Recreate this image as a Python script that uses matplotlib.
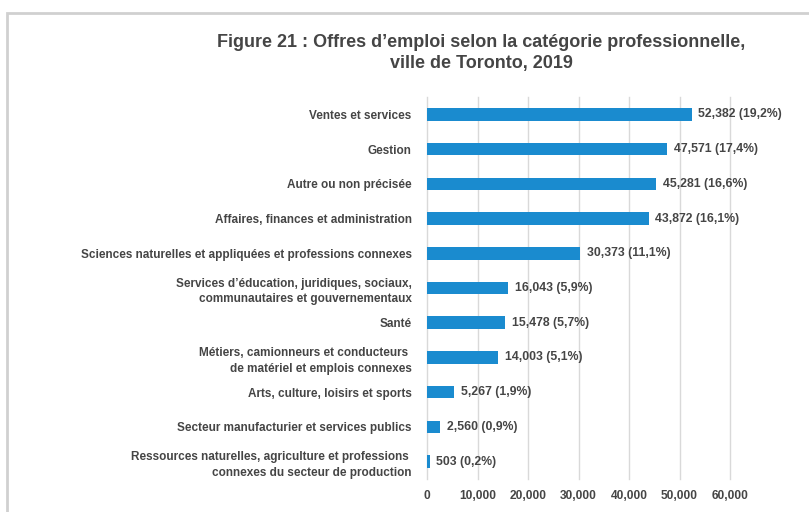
import matplotlib
matplotlib.use("Agg")
import matplotlib.pyplot as plt
from matplotlib.patches import Rectangle
from matplotlib import font_manager

names = {f.name for f in font_manager.fontManager.ttflist}
plt.rcParams["font.family"] = ["Liberation Sans", "DejaVu Sans"]
title_font = ["Liberation Sans Narrow", "Liberation Sans"] if "Liberation Sans Narrow" in names else ["Liberation Sans"]

categories = [
    "Ventes et services",
    "Gestion",
    "Autre ou non précisée",
    "Affaires, finances et administration",
    "Sciences naturelles et appliquées et professions connexes",
    "Services d’éducation, juridiques, sociaux,\ncommunautaires et gouvernementaux",
    "Santé",
    "Métiers, camionneurs et conducteurs \nde matériel et emplois connexes",
    "Arts, culture, loisirs et sports",
    "Secteur manufacturier et services publics",
    "Ressources naturelles, agriculture et professions \nconnexes du secteur de production",
]
values = [52382, 47571, 45281, 43872, 30373, 16043, 15478, 14003, 5267, 2560, 503]
shares = ["19,2%", "17,4%", "16,6%", "16,1%", "11,1%", "5,9%", "5,7%", "5,1%", "1,9%", "0,9%", "0,2%"]
xticks = [0, 10000, 20000, 30000, 40000, 50000, 60000]

TXT = "#454545"
BAR = "#1a8bcf"

fig = plt.figure(figsize=(8.09, 5.12), dpi=100)
fig.patches.append(Rectangle((7/809, -0.1), 1.1, 1 - 13/512 + 0.1, transform=fig.transFigure,
                             fill=False, edgecolor="#d0d0d0", linewidth=2))

ax = fig.add_axes([427/809, 1 - 479/512, (730 - 427)/809, (479 - 97)/512])
y = list(range(len(categories)))
ax.barh(y, values, height=0.36, color=BAR, zorder=3)
ax.set_ylim(len(categories) - 0.5, -0.5)
ax.set_xlim(0, 60000)
ax.set_yticks(y)
ax.set_yticklabels(categories, fontsize=8.5, fontweight="bold", color=TXT, ha="right",
                   linespacing=1.4)
ax.set_xticks(xticks)
ax.set_xticklabels([f"{v:,}" for v in xticks], fontsize=8.6, fontweight="bold", color=TXT)
ax.tick_params(axis="y", length=0, pad=11)
ax.tick_params(axis="x", length=0, pad=8)
for xv in xticks:
    ax.axvline(xv, color="#d9d9d9", linewidth=1, zorder=0, clip_on=False)
for s in ax.spines.values():
    s.set_visible(False)

for yi, v, sh in zip(y, values, shares):
    ax.annotate(f"{v:,} ({sh})", xy=(v, yi), xytext=(5, 0), textcoords="offset points",
                va="center", ha="left", fontsize=8.8, fontweight="bold", color=TXT,
                annotation_clip=False)

fig.text(481/809, 1 - 53/512, "Figure 21 : Offres d’emploi selon la catégorie professionnelle,\nville de Toronto, 2019",
         ha="center", va="center", fontsize=13, fontweight="bold", color=TXT, linespacing=1.3,
         family=title_font)

fig.savefig("out.png", dpi=100)
